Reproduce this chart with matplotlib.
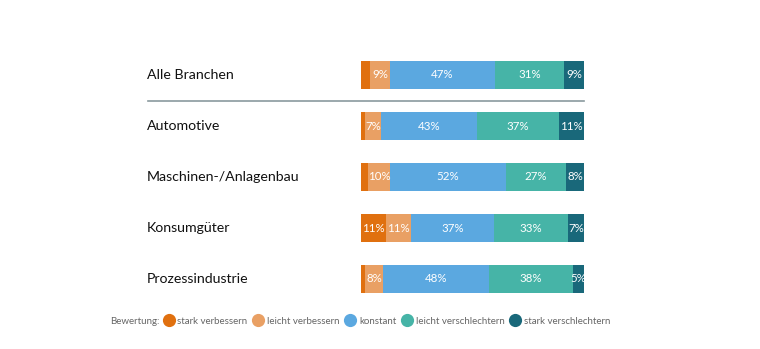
import numpy as np
import matplotlib
matplotlib.use("Agg")
from matplotlib import pyplot as plt
from matplotlib.lines import Line2D

plt.rcParams['font.family'] = ['Lato', 'DejaVu Sans']

# Branchen und Anteile je Bewertung (in %)
branchen = ['Alle Branchen', 'Automotive', 'Maschinen-/Anlagenbau', 'Konsumgüter', 'Prozessindustrie']
stark_verbessern = [4, 2, 3, 11, 2]
leicht_verbessern = [9, 7, 10, 11, 8]
konstant = [47, 43, 52, 37, 48]
leicht_verschlechtern = [31, 37, 27, 33, 38]
stark_verschlechtern = [9, 11, 8, 7, 5]

bewertungen = ['stark verbessern', 'leicht verbessern', 'konstant',
               'leicht verschlechtern', 'stark verschlechtern']
farben = ['#E0700F', '#E9A064', '#5BA8E0', '#46B4A7', '#19687A']

werte = np.array([stark_verbessern, leicht_verbessern, konstant,
                  leicht_verschlechtern, stark_verschlechtern], dtype=float)
summe = werte.sum(axis=0)
# jede Zeile auf volle Breite bringen (Rundungsdifferenzen)
anteile = werte / summe * 100

fig = plt.figure(figsize=(7.6, 3.49), dpi=100)
ax = fig.add_axes([361/760, 1 - 304.5/349, 223/760, 255/349])
y = np.arange(len(branchen))

links = np.zeros(len(branchen))
for i in range(len(bewertungen)):
    ax.barh(y, anteile[i], left=links, height=0.56, color=farben[i], edgecolor='none')
    for j in range(len(branchen)):
        if werte[i, j] >= 5:
            ax.text(links[j] + anteile[i, j] / 2, y[j], '%d%%' % werte[i, j],
                    ha='center', va='center', color='white', fontsize=8.3)
    links += anteile[i]

ax.set_xlim(0, 100)
ax.set_ylim(4.5, -0.5)
ax.axis('off')

for j, name in enumerate(branchen):
    ax.text(-0.96, y[j], name, transform=ax.get_yaxis_transform(),
            ha='left', va='center', fontsize=10.2, color='#111111')

# Trennlinie unter "Alle Branchen"
ax.plot([-0.955, 1.0], [0.5, 0.5], transform=ax.get_yaxis_transform(),
        color='#8A9A9E', lw=1.2, clip_on=False)

# Legende
fig.text(110/760, 1 - 321/349, 'Bewertung:', ha='left', va='center', fontsize=7, color='#666666')
handles = [Line2D([], [], marker='o', ls='none', markersize=9.5,
                  markerfacecolor=c, markeredgecolor='none') for c in farben]
fig.legend(handles, bewertungen, loc='center left', bbox_to_anchor=(158/760, 1 - 321/349),
           ncol=5, frameon=False, fontsize=7, labelcolor='#666666',
           handletextpad=0.3, columnspacing=0.5, handlelength=1.2, borderpad=0)

fig.savefig('out.png', dpi=100)
